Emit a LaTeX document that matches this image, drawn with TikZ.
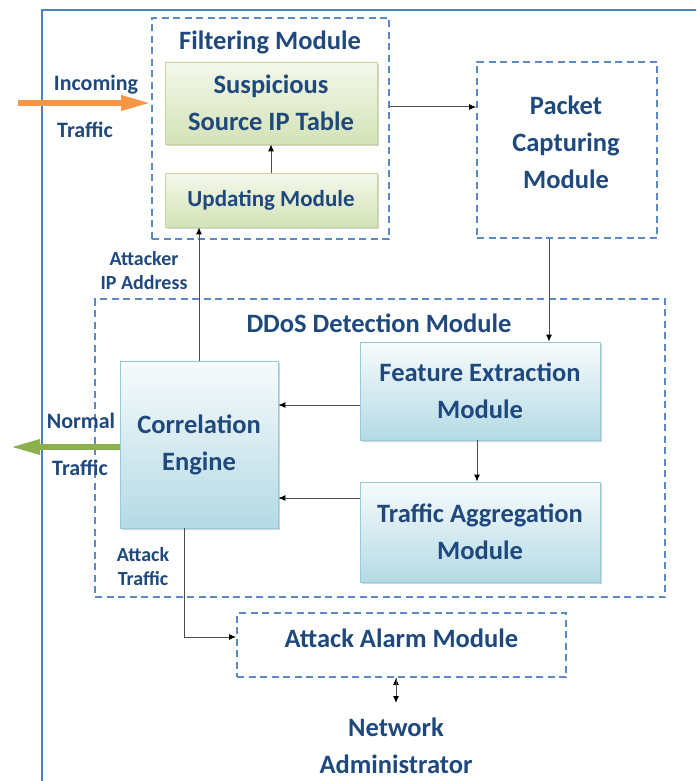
\documentclass[tikz,border=0pt]{standalone}
\usepackage{fontspec}
\setmainfont{Carlito}
\usetikzlibrary{arrows.meta,positioning,calc,shadows}
\definecolor{txtblue}{HTML}{1F497D}
\definecolor{dashblue}{HTML}{5B8AC6}
\definecolor{frameblue}{HTML}{4F81BD}
\definecolor{linegray}{HTML}{4D4D4D}
\definecolor{greentop}{HTML}{F4F8EC}
\definecolor{greenbot}{HTML}{D3E2B6}
\definecolor{greenline}{HTML}{C3D69B}
\definecolor{bluetop}{HTML}{F7FBFC}
\definecolor{bluebot}{HTML}{B4DAE5}
\definecolor{blueline}{HTML}{93CDDD}
\definecolor{trafforange}{HTML}{F79646}
\definecolor{traffgreen}{HTML}{8DB04F}

\begin{document}
\begin{tikzpicture}[x=1pt,y=-1pt,
  lbl/.style={font=\bfseries\fontsize{26.5}{37}\selectfont,text=txtblue,align=center},
  small/.style={font=\bfseries\fontsize{20}{24}\selectfont,text=txtblue,align=center},
  side/.style={font=\bfseries\fontsize{22}{24}\selectfont,text=txtblue,align=center},
  dbox/.style={draw=dashblue,dash pattern=on 7pt off 4.5pt,line width=1.6pt,inner sep=0pt},
  gbox/.style={draw=greenline,top color=greentop,bottom color=greenbot,line width=0.8pt,
    drop shadow={shadow xshift=1.5pt,shadow yshift=-2pt,opacity=0.35},inner sep=0pt},
  bluebox/.style={draw=blueline,top color=bluetop,bottom color=bluebot,line width=0.8pt,
    drop shadow={shadow xshift=1.5pt,shadow yshift=-2pt,opacity=0.35},inner sep=0pt},
  conn/.style={draw=linegray,line width=1pt,-{Latex[length=7pt,width=6pt,black]}}
]
\useasboundingbox (0,0) rectangle (696,781);
\begin{scope}
\clip (0,0) rectangle (696,781);
\draw[frameblue,line width=2.4pt] (42,10) rectangle (720,800);
\end{scope}

% dashed module frames
\node[dbox,minimum width=237pt,minimum height=221pt] (filt) at (270.5,128.5) {};
\node[dbox,minimum width=180pt,minimum height=176pt] (pcap) at (567,150) {};
\node[dbox,minimum width=570pt,minimum height=298pt] (ddos) at (380,448) {};
\node[dbox,minimum width=329pt,minimum height=64pt] (alarm) at (401.5,645) {};
\node[lbl] (alarmtext) at (401.5,638) {Attack Alarm Module};

\node[lbl] (filttitle) at (270,42) {Filtering Module};
\node[lbl] (ddostitle) at (379,323) {DDoS Detection Module};
\node[lbl] (pcaptext) at (566,142) {Packet\\Capturing\\Module};

% filtering boxes
\node[gbox,lbl,minimum width=212pt,minimum height=82pt] (sus) at (271,103) {Suspicious\\Source IP Table};
\node[gbox,lbl,font=\bfseries\fontsize{23}{30}\selectfont,minimum width=212pt,minimum height=54pt] (upd) at (271,200) {Updating Module};

% detection boxes
\node[bluebox,lbl,minimum width=158pt,minimum height=167pt] (corr) at (199,444.5) {Correlation\\Engine};
\node[bluebox,lbl,minimum width=240pt,minimum height=98pt] (feat) at (480,391) {Feature Extraction\\Module};
\node[bluebox,lbl,minimum width=240pt,minimum height=100pt] (aggr) at (480,532) {Traffic Aggregation\\Module};

\node[lbl,anchor=north,inner ysep=15pt] (admin) at (396,703) {Network\\Administrator};

% labels
\node[side] (inc) at (96,85) {Incoming};
\node[side] (inctr) at (85,130) {Traffic};
\node[side] (norm) at (81,421) {Normal};
\node[side] (normtr) at (80,468) {Traffic};
\node[small] (attip) at (144,271) {Attacker\\IP Address};
\node[small] (atttr) at (143,567) {Attack\\Traffic};

% coordinates for connector ends
\coordinate (insrc) at (18,103);
\coordinate (outdst) at (10,447);
\coordinate (fo) at ([yshift=21.5pt]filt.east);
\coordinate (po) at ([xshift=-18pt]pcap.south);
\coordinate (fl) at ([yshift=-14pt]feat.west);
\coordinate (al) at ([yshift=34pt]aggr.west);
\coordinate (cs) at ([xshift=-15pt]corr.south);
\coordinate (aw) at ([yshift=8pt]alarm.west);
\coordinate (fs) at ([xshift=-3pt]feat.south);

% traffic arrows
\draw[trafforange,line width=6pt,-{Triangle[length=30pt,width=14pt]}] (insrc) -- (insrc -| filt.west);
\draw[traffgreen,line width=6pt,-{Triangle[length=30pt,width=14pt]}] (corr.west |- outdst) -- (outdst);

% connectors
\path[conn]
  (fo) edge (fo -| pcap.west)
  (po) edge (po |- feat.north)
  (fs) edge (fs |- aggr.north)
  (fl) edge (fl -| corr.east)
  (al) edge (al -| corr.east)
  (corr.north) edge (corr.north |- upd.south)
  (upd.north) edge (sus.south)
  (admin.north |- alarm.south) edge (admin.north)
;
\draw[conn] (cs) |- (aw);
\end{tikzpicture}
\end{document}
